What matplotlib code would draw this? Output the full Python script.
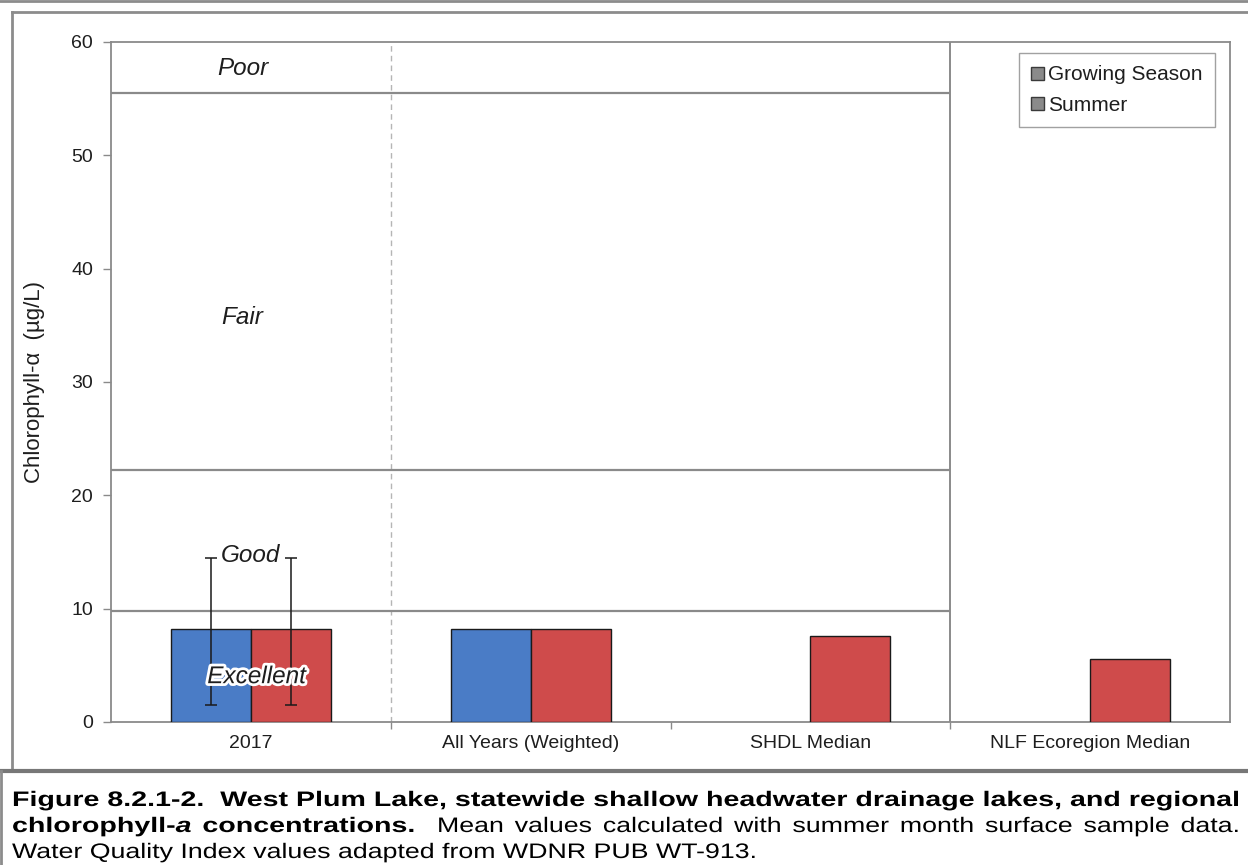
import matplotlib
matplotlib.use("Agg")
import matplotlib.pyplot as plt
from matplotlib.patches import Patch, PathPatch
from matplotlib.lines import Line2D
from matplotlib.textpath import TextPath, text_to_path
from matplotlib.font_manager import FontProperties
from matplotlib.transforms import Affine2D
import matplotlib.patheffects as pe
import numpy as np

plt.rcParams['font.family'] = ['Liberation Sans', 'DejaVu Sans']

# ---------------- data ----------------
categories = ["2017", "All Years (Weighted)", "SHDL Median", "NLF Ecoregion Median"]
growing_season = [8.2, 8.2, None, None]
summer = [8.2, 8.2, 7.55, 5.55]
err_low = [1.5, None, None, None]     # lower end of error bar
err_high = [14.45, None, None, None]  # upper end of error bar
threshold_values = [55.5, 22.2, 9.8]
region_labels = ["Poor", "Fair", "Good", "Excellent"]
region_label_y = [57.7, 35.7, 14.7, 4.0]
yticks = [0, 10, 20, 30, 40, 50, 60]

W, H = 1248, 865
fig = plt.figure(figsize=(W / 100, H / 100), dpi=100)

def fx(px):
    return px / W

def fy(py):
    return 1 - py / H

ax = fig.add_axes([fx(111), fy(722), fx(1230) - fx(111), fy(42) - fy(722)])

BLUE = "#4A7CC6"
RED = "#CF4B4B"
GRAY = "#8a8a8a"
TXT = "#1e1e1e"

x = np.arange(len(categories))
bw = 0.286
for i in range(len(categories)):
    if growing_season[i] is not None:
        ax.bar(x[i] - bw / 2, growing_season[i], width=bw, color=BLUE,
               edgecolor="#1a1a1a", linewidth=1.0, zorder=3)
    if summer[i] is not None:
        ax.bar(x[i] + bw / 2, summer[i], width=bw, color=RED,
               edgecolor="#1a1a1a", linewidth=1.0, zorder=3)
    if err_low[i] is not None:
        for xs, val in ((x[i] - bw / 2, growing_season[i]), (x[i] + bw / 2, summer[i])):
            ax.errorbar(xs, val, yerr=[[val - err_low[i]], [err_high[i] - val]],
                        fmt="none", ecolor="#1a1a1a", elinewidth=1.1,
                        capsize=4, capthick=1.1, zorder=4)

# threshold lines (end at the solid divider)
for tv in threshold_values:
    ax.plot([-0.5, 2.5], [tv, tv], color=GRAY, lw=1.6, zorder=2,
            solid_capstyle="butt")
ax.axvline(0.5, color="#b5b5b5", lw=1.0, ls=(0, (4, 3)), zorder=1)
ax.axvline(2.5, color=GRAY, lw=1.4, zorder=2)

# region labels
RFS = 17.5
rx = [-0.03, -0.03, 0.0, 0.02]
for lab, yy, xx in zip(region_labels, region_label_y, rx):
    kw = dict(ha="center", va="center", fontsize=RFS, style="italic",
              color=TXT, zorder=5)
    if lab == "Good":
        ax.text(xx, yy, lab, bbox=dict(facecolor="white", edgecolor="none", pad=1.0), **kw)
    elif lab == "Excellent":
        ax.text(xx, yy, lab,
                path_effects=[pe.withStroke(linewidth=4, foreground="white")], **kw)
    else:
        ax.text(xx, yy, lab, **kw)

ax.set_xlim(-0.5, 3.5)
ax.set_ylim(0, 60)
ax.set_yticks(yticks)
ax.set_yticklabels([str(t) for t in yticks], fontsize=14, color=TXT)
ax.set_xticks(x)
ax.set_xticklabels(categories, fontsize=14, color=TXT)
ax.tick_params(axis="x", length=0, pad=9)
ax.set_xticks([0.5, 1.5, 2.5], minor=True)
ax.tick_params(axis="x", which="minor", length=5, color=GRAY, width=1)
ax.tick_params(axis="y", length=6, color=GRAY, width=1, pad=7)
for s in ax.spines.values():
    s.set_color(GRAY)
    s.set_linewidth(1.3)

ax.set_ylabel("Chlorophyll-α  (µg/L)", fontsize=16, color=TXT)
ax.yaxis.set_label_coords(-0.059, 0.5)

handles = [Patch(facecolor="#8a8a8a", edgecolor="#3a3a3a", label="Growing Season"),
           Patch(facecolor="#8a8a8a", edgecolor="#3a3a3a", label="Summer")]
leg = ax.legend(handles=handles, loc="upper right",
                bbox_to_anchor=((1215 - 111) / 1119, (722 - 53) / 680),
                fontsize=15, frameon=True, fancybox=False, edgecolor=GRAY,
                handlelength=0.6, handleheight=0.6, handletextpad=0.2,
                borderpad=0.6, labelspacing=0.55, borderaxespad=0)
leg.get_frame().set_linewidth(1.0)
for t in leg.get_texts():
    t.set_color(TXT)

# frames around chart / caption
fig.add_artist(Line2D([0, 1], [fy(1), fy(1)], color="#8c8c8c", lw=2))
fig.add_artist(Line2D([fx(12), fx(12)], [fy(12), fy(770)], color="#8c8c8c", lw=2))
fig.add_artist(Line2D([fx(12), 1], [fy(12), fy(12)], color="#8c8c8c", lw=2))
fig.add_artist(Line2D([0, 1], [fy(771), fy(771)], color="#777777", lw=3))
fig.add_artist(Line2D([fx(1), fx(1)], [fy(771), 0], color="#8c8c8c", lw=2))

# ---------------- caption: horizontally stretched, justified ----------------
CAP_PX = 21.0
B = dict(weight="bold")
BI = dict(weight="bold", style="italic")
R = dict()

def fprop(kw):
    fp = FontProperties(family="Liberation Sans", weight=kw.get("weight", "normal"),
                        style=kw.get("style", "normal"))
    fp.set_size(CAP_PX)
    return fp

def adv(t, kw):
    if t == "":
        return 0.0
    w, h, d = text_to_path.get_text_width_height_descent(t, fprop(kw), ismath=False)
    return w

def space_w(kw):
    return adv("a a", kw) - adv("aa", kw)

def words_of(s, kw):
    return [[(t, kw)] for t in s.split(" ")]

line1 = words_of("Figure 8.2.1-2.  West Plum Lake, statewide shallow headwater drainage lakes, and regional", B)
line2 = ([[("chlorophyll-", B), ("a", BI)]] + words_of("concentrations.", B)
         + [[("", R)]] + words_of("Mean values calculated with summer month surface sample data.", R))
line3 = words_of("Water Quality Index values adapted from WDNR PUB WT-913.", R)

X0, X1 = 12, 1240
LINE3_END = 757

def nat_width(words):
    ws = sum(adv(t, kw) for w in words for t, kw in w)
    return ws + (len(words) - 1) * space_w(words[0][0][1])

SX_B = (X1 - X0) / nat_width(line1)
SX_R = (LINE3_END - X0) / nat_width(line3)

def sx_of(kw):
    return SX_B if kw.get("weight") == "bold" else SX_R

def draw_piece(t, kw, xpx, ybase_px):
    if not t:
        return
    path = TextPath((0, 0), t, size=CAP_PX, prop=fprop(kw))
    tr = Affine2D().scale(sx_of(kw), 1.0).translate(xpx, H - ybase_px)
    fig.add_artist(PathPatch(path, transform=tr, facecolor="black",
                             edgecolor="none", lw=0))

def place_line(words, ybase, justify=True):
    widths = [sum(adv(t, kw) * sx_of(kw) for t, kw in w) for w in words]
    if justify:
        gap = (X1 - X0 - sum(widths)) / (len(words) - 1)
    else:
        gap = space_w(R) * SX_R
    xc = X0
    for w, ww in zip(words, widths):
        xx = xc
        for t, kw in w:
            draw_piece(t, kw, xx, ybase)
            xx += adv(t, kw) * sx_of(kw)
        xc += ww + gap

place_line(line1, 806)
place_line(line2, 832)
place_line(line3, 858, justify=False)

fig.savefig("out.png", dpi=100)
